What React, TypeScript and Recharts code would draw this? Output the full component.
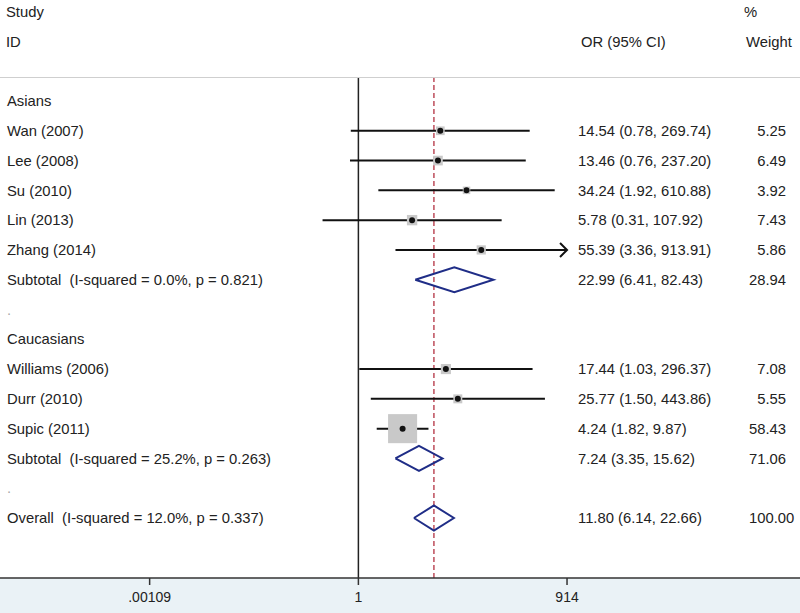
import React from 'react';
import { ComposedChart, Scatter, ErrorBar, XAxis, YAxis, ReferenceLine } from 'recharts';

// rows of the forest plot, top to bottom
const rowLabels = [
  'Asians',
  'Wan (2007)',
  'Lee (2008)',
  'Su (2010)',
  'Lin (2013)',
  'Zhang (2014)',
  'Subtotal  (I-squared = 0.0%, p = 0.821)',
  '.',
  'Caucasians',
  'Williams (2006)',
  'Durr (2010)',
  'Supic (2011)',
  'Subtotal  (I-squared = 25.2%, p = 0.263)',
  '.',
  'Overall  (I-squared = 12.0%, p = 0.337)',
];
const rowKinds = ['group', 'study', 'study', 'study', 'study', 'study', 'pooled', 'blank',
  'group', 'study', 'study', 'study', 'pooled', 'blank', 'pooled'];
const orValues = [null, 14.54, 13.46, 34.24, 5.78, 55.39, 22.99, null, null, 17.44, 25.77, 4.24, 7.24, null, 11.8];
const ciLower = [null, 0.78, 0.76, 1.92, 0.31, 3.36, 6.41, null, null, 1.03, 1.5, 1.82, 3.35, null, 6.14];
const ciUpper = [null, 269.74, 237.2, 610.88, 107.92, 913.91, 82.43, null, null, 296.37, 443.86, 9.87, 15.62, null, 22.66];
const weights = [null, 5.25, 6.49, 3.92, 7.43, 5.86, 28.94, null, null, 7.08, 5.55, 58.43, 71.06, null, 100.0];
const xTicks = [0.00109, 1, 914];

const W = 800;
const H = 613;
const TOP = 78;
const AXIS_H = 35;
// log axis extends past the labelled ticks to the edges of the figure
const X_DOMAIN = [8.2e-6, 1.85e6];
const Y_DOMAIN = [-0.772, 16.014];
const FONT = '"Liberation Sans", Arial, Helvetica, sans-serif';
const FS = 14.8;
const TEXT = '#222';
const NAVY = '#1f2d87';
const BOX_K = 3.8; // box side = k * sqrt(weight)
const DIA_H = 0.42; // diamond half height in rows

const rows = rowLabels.map((label, i) => {
  const x = orValues[i];
  const lo = ciLower[i];
  const hi = ciUpper[i];
  return {
    y: i,
    label,
    kind: rowKinds[i],
    x,
    lo,
    hi,
    w: weights[i],
    err: x != null && lo != null && hi != null ? [x - lo, hi - x] : null,
  };
});

const studies = rows.filter((r) => r.kind === 'study');
const pooled = rows.filter((r) => r.kind === 'pooled');
const overall = pooled[pooled.length - 1];
const axisMax = xTicks[xTicks.length - 1];
const truncated = studies.filter((r) => Math.round(r.hi as number) >= axisMax).map((r) => ({ x: r.hi, y: r.y }));

const diamondPoints = (r: any) => [
  { x: r.lo, y: r.y },
  { x: r.x, y: r.y - DIA_H },
  { x: r.hi, y: r.y },
  { x: r.x, y: r.y + DIA_H },
  { x: r.lo, y: r.y },
];

const fmtTick = (v: number) => (v < 1 ? String(v).replace(/^0/, '') : String(v));

const RowTick = (props: any) => {
  const { y, payload } = props;
  const r = rows[payload.value];
  if (!r) return null;
  return (
    <g fontFamily={FONT} fontSize={FS}>
      <text x={7} y={y} dy="0.35em" fill={r.kind === 'blank' ? '#aaa' : TEXT} style={{ whiteSpace: 'pre' }}>
        {r.label}
      </text>
      {r.x != null && (
        <text x={578} y={y} dy="0.35em" fill={TEXT}>
          {`${r.x.toFixed(2)} (${(r.lo as number).toFixed(2)}, ${(r.hi as number).toFixed(2)})`}
        </text>
      )}
      {r.w != null && (
        <text x={749} y={y} dy="0.35em" fill={TEXT}>
          {r.w.toFixed(2).padStart(5, '\u2007')}
        </text>
      )}
    </g>
  );
};

const BoxShape = (props: any) => {
  const { cx, cy, payload } = props;
  const s = BOX_K * Math.sqrt(payload.w);
  return <rect x={cx - s / 2} y={cy - s / 2} width={s} height={s} fill="#c9c9c9" />;
};

const DotShape = (props: any) => <circle cx={props.cx} cy={props.cy} r={3} fill="#111" />;

const ArrowShape = (props: any) => {
  const { cx, cy } = props;
  return <path d={`M${cx - 7},${cy - 7} L${cx},${cy} L${cx - 7},${cy + 7}`} fill="none" stroke="#111" strokeWidth={2} />;
};

export default function App() {
  return (
    <div
      style={{
        position: 'relative',
        width: W,
        height: H,
        background: `linear-gradient(to bottom, #fff 0, #fff ${H - AXIS_H}px, #eaf2f6 ${H - AXIS_H}px)`,
      }}
    >
      <style>{'body{margin:0}'}</style>
      <svg width={W} height={TOP} style={{ position: 'absolute', left: 0, top: 0 }} fontFamily={FONT} fontSize={FS} fill={TEXT}>
        <text x={6} y={12} dy="0.35em">Study</text>
        <text x={6} y={42} dy="0.35em">ID</text>
        <text x={581} y={42} dy="0.35em">OR (95% CI)</text>
        <text x={744} y={12} dy="0.35em">%</text>
        <text x={746} y={42} dy="0.35em">Weight</text>
        <line x1={0} x2={W} y1={77.5} y2={77.5} stroke="#cfcfcf" strokeWidth={1} />
      </svg>
      <div style={{ position: 'absolute', left: 0, top: 0 }}>
        <ComposedChart width={W} height={H} margin={{ top: TOP, right: 0, bottom: 0, left: -1 }}>
          <XAxis
            type="number"
            dataKey="x"
            scale="log"
            domain={X_DOMAIN}
            allowDataOverflow
            ticks={xTicks}
            tickFormatter={fmtTick}
            height={AXIS_H}
            stroke="#333"
            strokeWidth={1.5}
            tickSize={7}
            tickMargin={7}
            tick={{ fill: TEXT, fontSize: 14, fontFamily: FONT }}
          />
          <YAxis
            type="number"
            dataKey="y"
            domain={Y_DOMAIN}
            allowDataOverflow
            reversed
            width={1}
            ticks={rows.map((r) => r.y)}
            interval={0}
            axisLine={false}
            tickLine={false}
            tick={<RowTick />}
          />
          <ReferenceLine x={1} stroke="#222" strokeWidth={1.5} />
          <ReferenceLine x={overall.x as number} stroke="#b83f4e" strokeWidth={1.4} strokeDasharray="5 3" />
          <Scatter data={studies} shape={<BoxShape />} isAnimationActive={false} />
          <Scatter data={studies} shape={<DotShape />} isAnimationActive={false}>
            <ErrorBar dataKey="err" direction="x" width={0} stroke="#111" strokeWidth={2} />
          </Scatter>
          <Scatter data={truncated} shape={<ArrowShape />} isAnimationActive={false} />
          {pooled.map((r) => (
            <Scatter
              key={r.y}
              data={diamondPoints(r)}
              fill="none"
              stroke={NAVY}
              line={{ stroke: NAVY, strokeWidth: 2 }}
              lineType="joint"
              shape={() => <g />}
              isAnimationActive={false}
            />
          ))}
        </ComposedChart>
      </div>
    </div>
  );
}
